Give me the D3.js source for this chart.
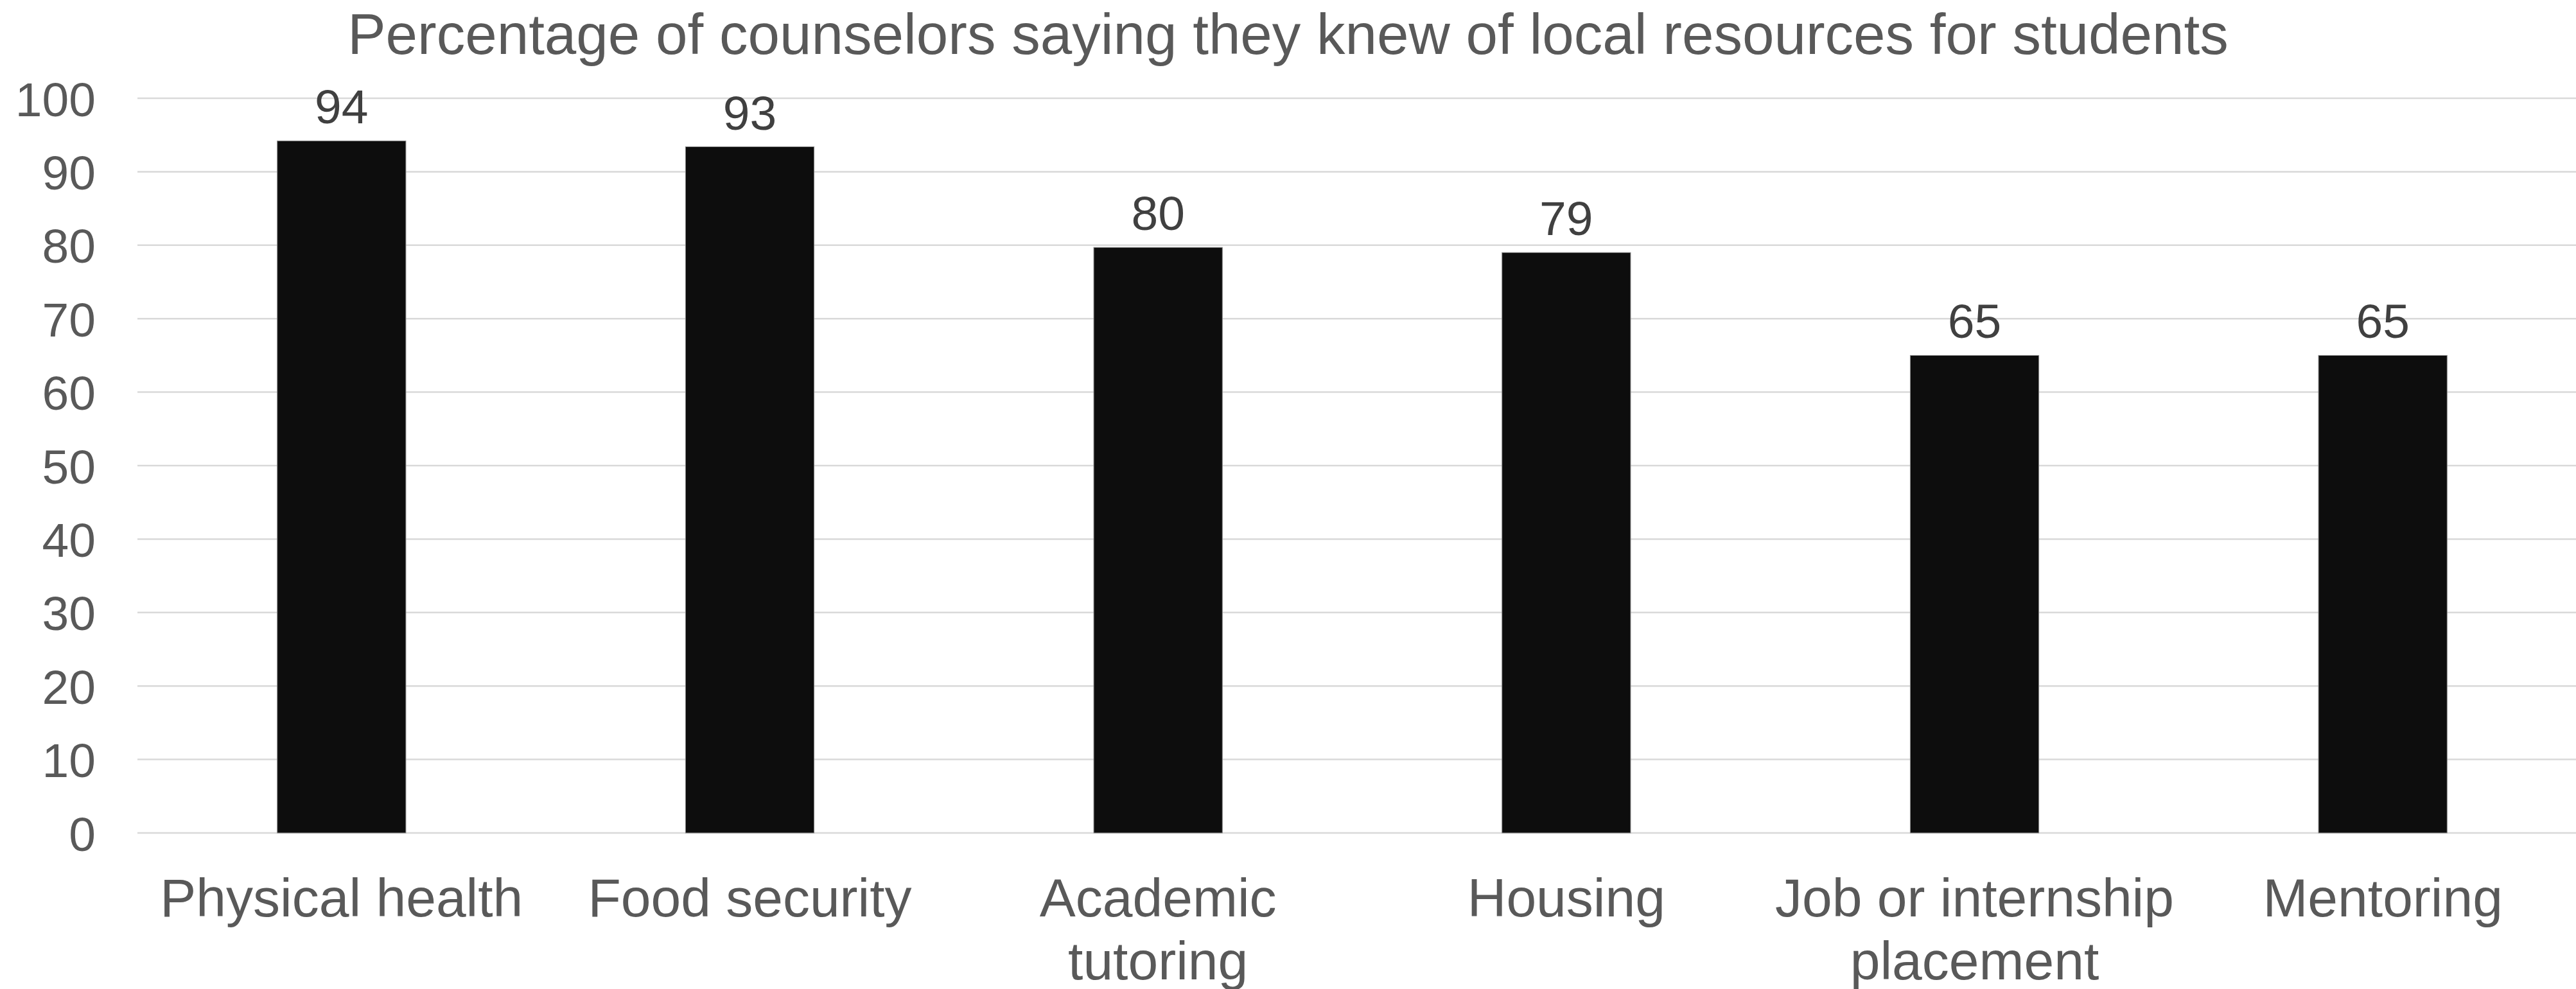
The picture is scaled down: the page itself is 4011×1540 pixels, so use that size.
<!DOCTYPE html>
<html>
<head>
<meta charset="utf-8">
<script src="https://cdn.jsdelivr.net/npm/d3@7"></script>
<style>
  body { margin: 0; background: #fff; }
  text { font-family: "Liberation Sans", Arial, sans-serif; }
</style>
</head>
<body>
<div id="chart"></div>
<script>
// Data
var categories = ["Physical health", "Food security", "Academic tutoring", "Housing", "Job or internship placement", "Mentoring"];
var labelLines = [["Physical health"], ["Food security"], ["Academic", "tutoring"], ["Housing"], ["Job or internship", "placement"], ["Mentoring"]];
var values = [94.2, 93.4, 79.7, 79.0, 65.0, 65.0];
var yTicks = [0, 10, 20, 30, 40, 50, 60, 70, 80, 90, 100];
var title = "Percentage of counselors saying they knew of local resources for students";

var svgWidth = 4011;
var svgHeight = 1540;

var margin = {
  top: 153,
  right: 0,
  bottom: 243,
  left: 214
};

var height = svgHeight - margin.top - margin.bottom;

var svg = d3.select("#chart")
  .append("svg")
  .attr("width", svgWidth)
  .attr("height", svgHeight);

var chartGroup = svg.append("g")
  .attr("transform", `translate(${margin.left}, ${margin.top})`);

// Scales
var xScale = d3.scaleBand()
  .domain(categories)
  .range([0, 3814])
  .paddingInner(0.685)
  .paddingOuter(0.3425);

var yScale = d3.scaleLinear()
  .domain([0, 100])
  .range([height, 0]);

// Gridlines
chartGroup.append("g")
  .selectAll("line")
  .data(yTicks)
  .enter()
  .append("line")
  .attr("x1", 0)
  .attr("x2", svgWidth - margin.left)
  .attr("y1", d => yScale(d))
  .attr("y2", d => yScale(d))
  .attr("stroke", "#d9d9d9")
  .attr("stroke-width", 2.5);

// Y axis labels
var yAxis = d3.axisLeft(yScale).tickValues(yTicks).tickSize(0).tickPadding(65);
var yAxisGroup = chartGroup.append("g").call(yAxis);
yAxisGroup.select(".domain").remove();
yAxisGroup.selectAll("text")
  .attr("font-family", "Liberation Sans, Arial, sans-serif")
  .attr("font-size", 75)
  .attr("fill", "#595959")
  .attr("dy", "0.36em");

// Bars
chartGroup.selectAll("rect.bar")
  .data(values)
  .enter()
  .append("rect")
  .attr("class", "bar")
  .attr("x", (d, i) => xScale(categories[i]))
  .attr("y", d => yScale(d))
  .attr("width", xScale.bandwidth())
  .attr("height", d => height - yScale(d))
  .attr("fill", "#0d0d0d")
  .attr("stroke", "#8c8c8c")
  .attr("stroke-width", 1);

// Value labels
chartGroup.selectAll("text.value")
  .data(values)
  .enter()
  .append("text")
  .attr("class", "value")
  .attr("x", (d, i) => xScale(categories[i]) + xScale.bandwidth() / 2)
  .attr("y", d => yScale(d) - 27)
  .attr("text-anchor", "middle")
  .attr("font-size", 75)
  .attr("fill", "#404040")
  .text(d => Math.round(d));

// Category labels
var catLabels = chartGroup.selectAll("text.cat")
  .data(categories)
  .enter()
  .append("text")
  .attr("class", "cat")
  .attr("x", d => xScale(d) + xScale.bandwidth() / 2)
  .attr("y", height + 130)
  .attr("text-anchor", "middle")
  .attr("font-size", 84)
  .attr("fill", "#595959");

catLabels.selectAll("tspan")
  .data((d, i) => labelLines[i])
  .enter()
  .append("tspan")
  .attr("x", function() { return d3.select(this.parentNode).attr("x"); })
  .attr("dy", (d, i) => i === 0 ? 0 : 98)
  .text(d => d);

// Title
svg.append("text")
  .attr("x", svgWidth / 2)
  .attr("y", 84)
  .attr("text-anchor", "middle")
  .attr("font-size", 89)
  .attr("fill", "#595959")
  .text(title);
</script>
</body>
</html>
